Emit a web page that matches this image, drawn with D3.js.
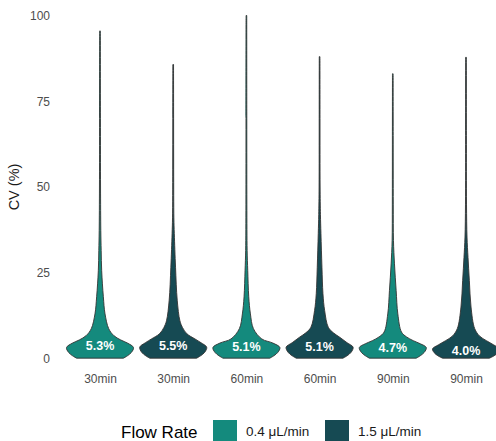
<!DOCTYPE html>
<html>
<head>
<meta charset="utf-8">
<script src="https://cdn.jsdelivr.net/npm/d3@7"></script>
<style>
  html, body { margin: 0; padding: 0; background: #fff; }
  svg { display: block; font-family: "Liberation Sans", Arial, sans-serif; }
</style>
</head>
<body>
<svg id="chart" width="496" height="441"></svg>
<script>
// Groups, in plotting order
const groupIds   = ["30-low", "30-high", "60-low", "60-high", "90-low", "90-high"];
const timeLabels = ["30min", "30min", "60min", "60min", "90min", "90min"];
const flowOfGroup = ["0.4 μL/min", "1.5 μL/min", "0.4 μL/min", "1.5 μL/min", "0.4 μL/min", "1.5 μL/min"];
const medianCV   = [5.3, 5.5, 5.1, 5.1, 4.7, 4.0];

const flowRates  = ["0.4 μL/min", "1.5 μL/min"];
const flowColors = ["#148a7d", "#164a53"];
const yTicks     = [0, 25, 50, 75, 100];

// Kernel density profiles: [CV (%), relative density]
const density30Low = [[0.1,0.70],[0.8,0.82],[1.8,0.94],[3.2,1.0],[4.5,0.82],[5.4,0.62],[6.7,0.41],[8.7,0.26],[13,0.15],[18,0.10],[25.6,0.05],[31.5,0.035],[37.3,0.024],[50,0.016],[70,0.013],[95.5,0.01]];
const density30High = [[0.1,0.70],[0.8,0.82],[1.8,0.94],[3.3,1.0],[4.6,0.83],[5.7,0.65],[7.2,0.41],[9,0.28],[11,0.20],[17,0.12],[26.6,0.07],[36.4,0.033],[41,0.02],[55,0.014],[70,0.012],[85.7,0.01]];
const density60Low = [[0.1,0.70],[0.8,0.82],[1.8,0.94],[3.2,1.0],[4.5,0.79],[5.7,0.46],[8.7,0.21],[13,0.12],[18,0.07],[25.7,0.04],[31.5,0.022],[45,0.014],[70,0.012],[100,0.01]];
const density60High = [[0.1,0.70],[0.8,0.82],[1.8,0.94],[3.3,1.0],[4.6,0.82],[6.2,0.60],[7.5,0.41],[9.1,0.26],[14,0.15],[18.9,0.10],[26.6,0.07],[36.4,0.04],[42,0.025],[50,0.015],[70,0.012],[88,0.01]];
const density90Low = [[0.1,0.70],[0.8,0.82],[1.8,0.94],[3.2,1.0],[4.3,0.82],[5.2,0.61],[6.3,0.41],[7.7,0.26],[13,0.15],[19.8,0.10],[27.6,0.05],[34.4,0.02],[45,0.014],[65,0.012],[83,0.01]];
const density90High = [[0.1,0.70],[0.8,0.84],[1.7,0.95],[2.8,1.0],[4,0.82],[5.2,0.61],[6.5,0.41],[8.7,0.26],[15,0.15],[22.7,0.10],[29.5,0.06],[35.4,0.03],[45,0.015],[65,0.012],[87.8,0.01]];
const densities = [density30Low, density30High, density60Low, density60High, density90Low, density90High];

const svg = d3.select("#chart");

const x = d3.scalePoint().domain(groupIds).range([100, 466]);
const y = d3.scaleLinear().domain([0, 100]).range([358.5, 15.5]);
const halfWidth = d3.scaleLinear().domain([0, 1]).range([0, 33.5]);
const color = d3.scaleOrdinal().domain(flowRates).range(flowColors);

// Y axis (labels only)
const yAxis = svg.append("g")
  .attr("transform", "translate(56,0)")
  .call(d3.axisLeft(y).tickValues(yTicks).tickSize(0).tickPadding(6));
yAxis.select(".domain").remove();
yAxis.selectAll("text").attr("font-size", 12).attr("fill", "#4d4d4d")
  .attr("font-family", "'Liberation Sans', Arial, sans-serif");

// X axis labels
const xAxis = svg.append("g")
  .attr("transform", "translate(0,366)")
  .call(d3.axisBottom(x).tickSize(0).tickPadding(8).tickFormat((d, i) => timeLabels[i]));
xAxis.select(".domain").remove();
xAxis.selectAll("text").attr("font-size", 12).attr("fill", "#4d4d4d")
  .attr("font-family", "'Liberation Sans', Arial, sans-serif");

// Y axis title
svg.append("text")
  .attr("transform", "translate(19," + ((y(0) + y(100)) / 2) + ") rotate(-90)")
  .attr("text-anchor", "middle")
  .attr("font-size", 14.5)
  .attr("fill", "#1a1a1a")
  .text("CV (%)");

// Violins
const violins = svg.append("g");
groupIds.forEach((g, i) => {
  const cx = x(g);
  const area = d3.area()
    .curve(d3.curveCatmullRom.alpha(0.5))
    .y(d => y(d[0]))
    .x0(d => cx - halfWidth(d[1]))
    .x1(d => cx + halfWidth(d[1]));
  violins.append("path")
    .datum(densities[i])
    .attr("d", area)
    .attr("fill", color(flowOfGroup[i]))
    .attr("stroke", "#333333")
    .attr("stroke-width", 0.9)
    .attr("stroke-linejoin", "round");
});

// Median labels
svg.append("g").selectAll("text")
  .data(groupIds)
  .join("text")
  .attr("x", d => x(d))
  .attr("y", (d, i) => y(medianCV[i]) + 10)
  .attr("text-anchor", "middle")
  .attr("font-size", 12.5)
  .attr("font-weight", "bold")
  .attr("fill", "#ffffff")
  .text((d, i) => medianCV[i].toFixed(1) + "%");

// Legend
const legend = svg.append("g");
legend.append("text")
  .attr("x", 121).attr("y", 438)
  .attr("font-size", 17)
  .attr("fill", "#000")
  .text("Flow Rate");
const items = legend.selectAll("g.item")
  .data(flowRates)
  .join("g")
  .attr("class", "item")
  .attr("transform", (d, i) => "translate(" + (213 + i * 112) + ",420)");
items.append("rect")
  .attr("width", 24).attr("height", 21)
  .attr("fill", d => color(d));
items.append("text")
  .attr("x", 33).attr("y", 16)
  .attr("font-size", 13.5)
  .attr("fill", "#1a1a1a")
  .text(d => d);
</script>
</body>
</html>
